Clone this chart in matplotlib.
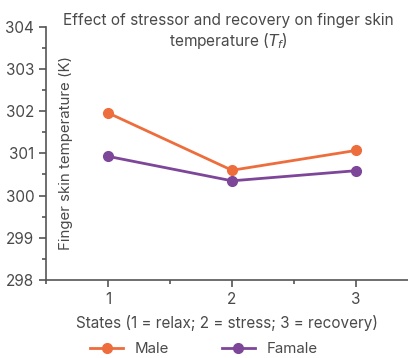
import numpy as np
import matplotlib.pyplot as plt
from matplotlib.ticker import MultipleLocator

plt.rcParams['font.family'] = ['Inter', 'DejaVu Sans']

states = [1, 2, 3]
male = [301.96, 300.60, 301.07]
female = [300.93, 300.35, 300.59]
series_names = ['Male', 'Famale']
colors = ['#EE6D3C', '#7D4699']
txt = '#4a4a4a'

fig = plt.figure(figsize=(4.08, 3.58), dpi=100)
ax = fig.add_axes([0.113, 0.218, 0.887, 0.707])

for vals, name, c in zip([male, female], series_names, colors):
    ax.plot(states, vals, color=c, lw=2, marker='o', markersize=7, label=name)

ax.set_xlim(0.5, 3.42)
ax.set_ylim(298, 304)
ax.set_xticks(states)
ax.xaxis.set_minor_locator(MultipleLocator(0.5))
ax.yaxis.set_major_locator(MultipleLocator(1))
ax.yaxis.set_minor_locator(MultipleLocator(0.5))
for s in ['top', 'right']:
    ax.spines[s].set_visible(False)
for s in ['left', 'bottom']:
    ax.spines[s].set_color('#555555')
    ax.spines[s].set_linewidth(1.2)
ax.tick_params(which='both', colors='#555555', labelcolor=txt, labelsize=11, width=1.2)
ax.tick_params(which='major', length=5)
ax.tick_params(which='minor', length=3)

ax.set_xlabel('States (1 = relax; 2 = stress; 3 = recovery)', color=txt, fontsize=11, labelpad=6)
ax.text(0.055, 0.5, 'Finger skin temperature (K)', transform=ax.transAxes, rotation=90,
        ha='center', va='center', color=txt, fontsize=10.8)
fig.text(0.56, 0.965, 'Effect of stressor and recovery on finger skin\ntemperature ($T_f$)',
         ha='center', va='top', color=txt, fontsize=11.1, linespacing=1.2)

fig.legend(loc='center', bbox_to_anchor=(0.5, 0.025), ncol=2, frameon=False,
           fontsize=10.8, labelcolor=txt, handlelength=2.2, columnspacing=3.5, borderaxespad=0)

fig.savefig('out.png', dpi=100)
